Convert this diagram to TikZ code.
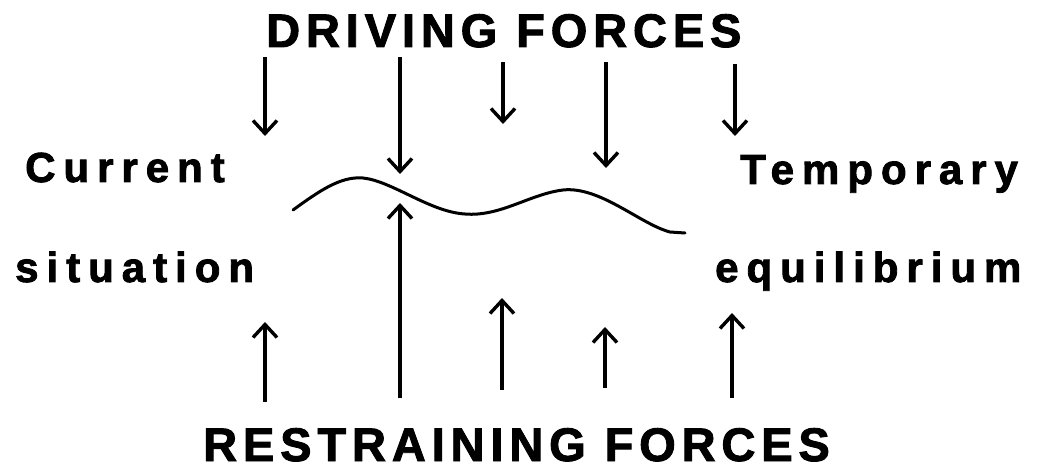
\documentclass[tikz,border=0pt]{standalone}
\usepackage{fontspec}
\setmainfont{Liberation Sans}
\newfontfamily\titlefont[LetterSpace=12.5,FakeBold=2]{Liberation Sans}
\newfontfamily\sidefont[LetterSpace=19,FakeBold=2]{Liberation Sans}
\usetikzlibrary{arrows.meta}
\begin{document}
\begin{tikzpicture}[x=1pt,y=-1pt,
  title/.style={inner sep=0pt,anchor=base west,font=\titlefont\bfseries\fontsize{47}{50}\selectfont},
  side/.style={inner sep=0pt,anchor=base west,font=\sidefont\bfseries\fontsize{42}{46}\selectfont},
  force/.style={line width=3.4pt,-{Straight Barb[length=13pt,width=24pt,line width=3.4pt]}},
  wave/.style={line width=3pt,line cap=round}]
\useasboundingbox (0,0) rectangle (1045,470);
\fill[white] (0,0) rectangle (1045,470);
% titles and labels
\node[title] (driving) at (266,47) {DRIVING FORCES};
\node[title] (restraining) at (203,461) {RESTRAINING FORCES};
\node[side] (current) at (25,182) {Current};
\node[side] (situation) at (15,282) {situation};
\node[side] (temporary) at (740,184) {Temporary};
\node[side] (equilibrium) at (715,282) {equilibrium};
% driving force coordinates
\coordinate (d1s) at (265,57);  \coordinate (d1e) at (265,136);
\coordinate (d2s) at (400,57);  \coordinate (d2e) at (400,174);
\coordinate (d3s) at (503,62);  \coordinate (d3e) at (503,124);
\coordinate (d4s) at (606,62);  \coordinate (d4e) at (606,168);
\coordinate (d5s) at (735,64);  \coordinate (d5e) at (735,136);
% restraining force coordinates
\coordinate (u1s) at (265,402); \coordinate (u1e) at (265,322);
\coordinate (u2s) at (400,398); \coordinate (u2e) at (400,203);
\coordinate (u3s) at (502,390); \coordinate (u3e) at (502,298);
\coordinate (u4s) at (605,388); \coordinate (u4e) at (605,327);
\coordinate (u5s) at (732,398); \coordinate (u5e) at (732,313);
\foreach \i in {1,...,5}{
  \draw[force] (d\i s) -- (d\i e);
  \draw[force] (u\i s) -- (u\i e);
}
% equilibrium line
\coordinate (w0) at (293,210);
\coordinate (w1) at (363,178);
\coordinate (w2) at (465,214);
\coordinate (w3) at (563,190);
\coordinate (w4) at (670,232);
\coordinate (w5) at (685,233);
\draw[wave] (w0) .. controls (318,192) and (340,176) .. (w1)
  .. controls (392,181) and (430,212) .. (w2)
  .. controls (500,217) and (530,194) .. (w3)
  .. controls (600,186) and (640,224) .. (w4) -- (w5);
\end{tikzpicture}
\end{document}
